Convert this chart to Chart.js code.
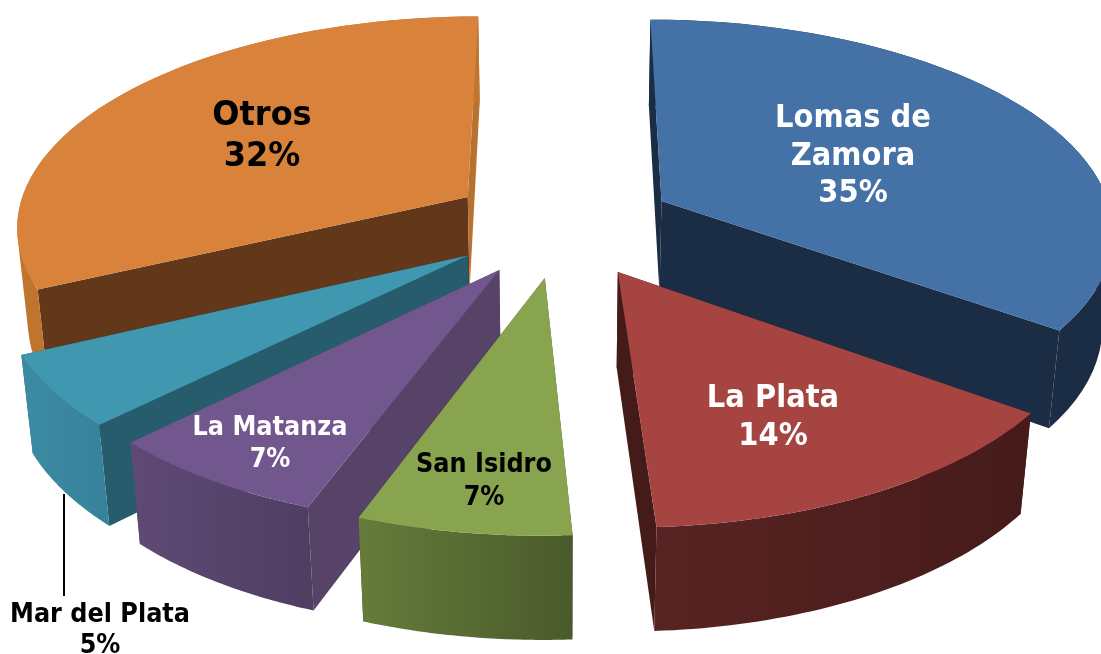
<!DOCTYPE html>
<html>
<head>
<meta charset="utf-8">
<title>Pie 3D</title>
<script src="https://cdn.jsdelivr.net/npm/chart.js@4/dist/chart.umd.min.js"></script>
<style>
  html, body { margin: 0; padding: 0; background: #fff; overflow: hidden; }
  canvas { display: block; }
</style>
</head>
<body>
<canvas id="pie" width="1101" height="654"></canvas>
<script>
const categories = ['Lomas de Zamora', 'La Plata', 'San Isidro', 'La Matanza', 'Mar del Plata', 'Otros'];
const shares = [35, 14.1, 6.5, 6.9, 5.4, 32.1];

const topColors = ['#4471a6', '#a64442', '#89a44f', '#71578e', '#4097b0', '#d9823c'];
const rimFrom = ['#1b2d45', '#582423', '#657c3b', '#5e4a74', '#3c8aa3', '#c0752f'];
const rimTo = ['#1b2d45', '#451b1a', '#4a5a2b', '#503d62', '#37829b', '#c0752f'];
const startWall = ['#1b2d45', '#451b1a', '#4a5a2b', '#574268', '#265c6c', '#63381a'];
const endWall = ['#1b2d45', '#451b1a', '#4a5a2b', '#574268', '#265c6c', '#b8722f'];

// baris nama, lalu persen dari shares; x/y = tengah baris pertama
const labelStyle = [
  { lines: ['Lomas de', 'Zamora'], x: 853, y: 119, lh: 37.5, size: 29, color: '#fff' },
  { lines: ['La Plata'], x: 773, y: 399, lh: 38, size: 29, color: '#fff' },
  { lines: ['San Isidro'], x: 484, y: 465, lh: 33, size: 24, color: '#000' },
  { lines: ['La Matanza'], x: 270, y: 428, lh: 32, size: 24, color: '#fff' },
  { lines: ['Mar del Plata'], x: 100, y: 615, lh: 31, size: 24, color: '#000' },
  { lines: ['Otros'], x: 262, y: 116, lh: 41, size: 32, color: '#000' }
];

// proyeksi perspektif pie (radius = 1)
const CX = 562, CY = 224.5, SX = 453, SY = 210, PERSP = 0.127;
const EXPLODE = 0.25, DEPTH = 96, SHRINK = 0.02, STEPS = 48;
const TEXT_STRETCH = 1.08;

function project(x, y, low) {
  const w = 1 + PERSP * y + (low ? SHRINK : 0);
  return { x: CX + SX * x / w, y: CY + (-SY * y + (low ? DEPTH : 0)) / w };
}

function tracePoly(ctx, pts) {
  pts.forEach((p, i) => (i ? ctx.lineTo(p.x, p.y) : ctx.moveTo(p.x, p.y)));
  ctx.closePath();
}

function poly(ctx, pts, fill) {
  ctx.beginPath();
  tracePoly(ctx, pts);
  ctx.fillStyle = fill;
  ctx.fill();
}

function signedArea(pts) {
  let sum = 0;
  pts.forEach((p, i) => {
    const q = pts[(i + 1) % pts.length];
    sum += p.x * q.y - q.x * p.y;
  });
  return sum;
}

function drawSlice(ctx, arc, i) {
  // sudut chart.js: 0 = timur; di sini 0 = atas
  const a0 = arc.startAngle + Math.PI / 2;
  const a1 = arc.endAngle + Math.PI / 2;
  const mid = (a0 + a1) / 2;
  const ox = EXPLODE * Math.sin(mid), oy = EXPLODE * Math.cos(mid);

  const rimTop = [], rimLow = [];
  for (let s = 0; s <= STEPS; s++) {
    const a = a0 + (a1 - a0) * s / STEPS;
    const x = ox + Math.sin(a), y = oy + Math.cos(a);
    rimTop.push(project(x, y, false));
    rimLow.push(project(x, y, true));
  }
  const apexTop = project(ox, oy, false), apexLow = project(ox, oy, true);

  poly(ctx, [apexTop, rimTop[0], rimLow[0], apexLow], startWall[i]);
  poly(ctx, [apexTop, rimTop[STEPS], rimLow[STEPS], apexLow], endWall[i]);

  const xs = rimTop.concat(rimLow).map(p => p.x);
  const grad = ctx.createLinearGradient(Math.min(...xs), 0, Math.max(...xs), 0);
  grad.addColorStop(0, rimFrom[i]);
  grad.addColorStop(1, rimTo[i]);
  // semua segmen satu path, arah sama, supaya siluet utuh dan tanpa garis sambungan
  ctx.beginPath();
  for (let s = 0; s < STEPS; s++) {
    const quad = [rimTop[s], rimTop[s + 1], rimLow[s + 1], rimLow[s]];
    tracePoly(ctx, signedArea(quad) < 0 ? quad.reverse() : quad);
  }
  ctx.fillStyle = grad;
  ctx.fill();

  poly(ctx, [apexTop].concat(rimTop), arc.options.backgroundColor);
}

const pie3d = {
  id: 'pie3d',
  beforeDatasetDraw(chart, args) {
    const ctx = chart.ctx;
    const arcs = args.meta.data.map((arc, i) => ({ arc, i }));
    // dari belakang ke depan
    const depthKey = a => Math.cos((a.arc.startAngle + a.arc.endAngle) / 2 + Math.PI / 2);
    arcs.sort((p, q) => depthKey(q) - depthKey(p));
    ctx.save();
    arcs.forEach(a => drawSlice(ctx, a.arc, a.i));
    ctx.restore();
    return false;
  },
  afterDatasetsDraw(chart) {
    const ctx = chart.ctx;
    ctx.save();
    // garis penunjuk Mar del Plata
    ctx.strokeStyle = '#000';
    ctx.lineWidth = 2;
    ctx.beginPath();
    ctx.moveTo(64, 494);
    ctx.lineTo(64, 596);
    ctx.stroke();

    ctx.textAlign = 'center';
    ctx.textBaseline = 'middle';
    labelStyle.forEach((l, i) => {
      ctx.font = `bold ${l.size}px "DejaVu Sans"`;
      ctx.fillStyle = l.color;
      l.lines.concat(Math.round(shares[i]) + '%').forEach((t, n) => {
        ctx.save();
        ctx.translate(l.x, l.y + n * l.lh);
        ctx.scale(1, TEXT_STRETCH);
        ctx.fillText(t, 0, 0);
        ctx.restore();
      });
    });
    ctx.restore();
  }
};

new Chart(document.getElementById('pie'), {
  type: 'pie',
  data: { labels: categories, datasets: [{ data: shares, backgroundColor: topColors, borderWidth: 0 }] },
  options: {
    responsive: false,
    animation: false,
    events: [],
    plugins: { legend: { display: false }, tooltip: { enabled: false } }
  },
  plugins: [pie3d]
});
</script>
</body>
</html>
